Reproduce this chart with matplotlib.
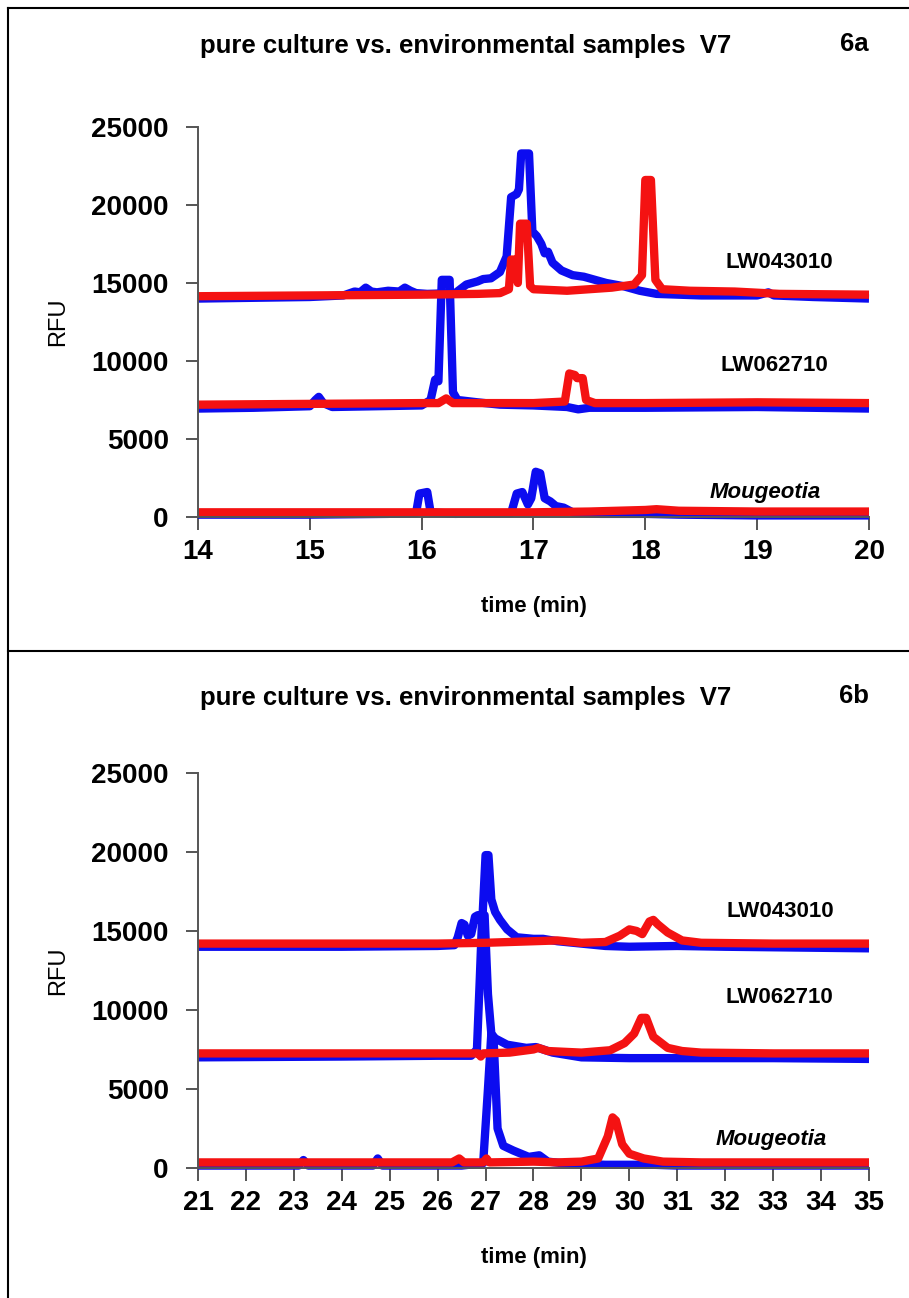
import matplotlib
matplotlib.use("Agg")
import matplotlib.pyplot as plt
from matplotlib.lines import Line2D

plt.rcParams['font.family'] = ['Liberation Sans', 'DejaVu Sans']

# ---- panel 6a (14-20 min) ----
t_b43a = [14.0, 14.5, 15.0, 15.3, 15.4, 15.45, 15.5, 15.55, 15.6, 15.7, 15.8, 15.85, 15.9, 15.95, 16.05,
          16.3, 16.4, 16.5, 16.55, 16.62, 16.7, 16.76, 16.8, 16.85, 16.87, 16.89, 16.96, 16.99, 17.03,
          17.07, 17.1, 17.13, 17.17, 17.25, 17.35, 17.45, 17.55, 17.65, 17.8, 17.95, 18.1, 18.5, 19.0,
          19.1, 19.15, 19.5, 20.0]
v_b43a = [14000, 14050, 14100, 14200, 14450, 14400, 14700, 14450, 14400, 14500, 14450, 14700, 14500, 14350, 14300,
          14350, 14900, 15100, 15250, 15300, 15700, 16700, 20500, 20700, 21000, 23300, 23300, 18300, 18000,
          17500, 16900, 17000, 16300, 15800, 15500, 15400, 15200, 15000, 14800, 14500, 14300, 14200, 14200,
          14400, 14200, 14100, 14000]

t_r43a = [14.0, 15.0, 16.0, 16.5, 16.7, 16.78, 16.8, 16.84, 16.86, 16.88, 16.94, 16.97, 17.0, 17.3, 17.5,
          17.7, 17.9, 17.97, 18.0, 18.05, 18.09, 18.15, 18.4, 18.8, 19.2, 20.0]
v_r43a = [14150, 14200, 14250, 14300, 14350, 14600, 16500, 16500, 15000, 18800, 18800, 14800, 14600, 14500, 14600,
          14700, 14900, 15500, 21600, 21600, 15200, 14600, 14500, 14450, 14300, 14250]

t_b62a = [14.0, 14.5, 15.0, 15.05, 15.08, 15.12, 15.2, 15.6, 16.0, 16.08, 16.12, 16.15, 16.18, 16.25, 16.28,
          16.32, 16.5, 16.7, 17.0, 17.3, 17.4, 17.5, 18.0, 19.0, 20.0]
v_b62a = [6950, 7000, 7100, 7500, 7700, 7300, 7050, 7100, 7150, 7500, 8800, 8700, 15200, 15200, 8000,
          7500, 7350, 7200, 7150, 7050, 6900, 7000, 7000, 7050, 6950]

t_r62a = [14.0, 15.0, 16.0, 16.15, 16.22, 16.28, 17.0, 17.28, 17.32, 17.37, 17.39, 17.44, 17.47, 17.55,
          18.0, 19.0, 20.0]
v_r62a = [7200, 7250, 7300, 7300, 7600, 7300, 7300, 7400, 9200, 9100, 8900, 8900, 7500, 7300,
          7300, 7350, 7300]

t_bMa = [14.0, 15.0, 15.7, 15.95, 15.98, 16.05, 16.08, 16.3, 16.8, 16.85, 16.9, 16.95, 16.98, 17.02, 17.06,
         17.1, 17.15, 17.2, 17.27, 17.35, 17.6, 18.0, 18.3, 19.0, 20.0]
v_bMa = [150, 150, 200, 250, 1500, 1600, 300, 200, 250, 1500, 1600, 800, 1200, 2900, 2800,
         1200, 1000, 700, 600, 300, 200, 200, 150, 100, 100]

t_rMa = [14.0, 15.0, 16.0, 17.0, 17.5, 18.0, 18.1, 18.3, 19.0, 20.0]
v_rMa = [300, 300, 300, 300, 350, 450, 500, 400, 350, 350]

# ---- panel 6b (21-35 min) ----
t_b43b = [21.0, 24.0, 26.0, 26.35, 26.42, 26.5, 26.56, 26.63, 26.7, 26.78, 26.84, 26.93, 27.0, 27.06,
          27.12, 27.2, 27.3, 27.45, 27.65, 28.0, 28.2, 28.5, 29.0, 29.5, 30.0, 31.0, 32.0, 35.0]
v_b43b = [14000, 14000, 14050, 14100, 14600, 15500, 15400, 14700, 14800, 15900, 16000, 15500, 19800, 19800,
          17000, 16200, 15700, 15100, 14600, 14500, 14500, 14350, 14200, 14050, 14000, 14050, 14000, 13900]

t_r43b = [21.0, 24.0, 26.0, 27.0, 28.0, 28.5, 29.0, 29.5, 29.8, 30.0, 30.15, 30.27, 30.42, 30.5, 30.6,
          30.8, 31.1, 31.5, 33.0, 35.0]
v_r43b = [14200, 14200, 14200, 14250, 14350, 14400, 14250, 14300, 14700, 15100, 15000, 14800, 15600, 15700, 15400,
          14900, 14400, 14250, 14200, 14200]

t_b62b = [21.0, 24.0, 26.0, 26.7, 26.82, 26.88, 26.93, 26.98, 27.05, 27.12, 27.2, 27.45, 27.85, 28.05,
          28.2, 28.4, 29.0, 30.0, 31.0, 33.0, 35.0]
v_b62b = [7000, 7050, 7100, 7100, 7500, 12000, 16000, 16000, 11000, 8500, 8200, 7800, 7600, 7650,
          7500, 7300, 7000, 6950, 6950, 6950, 6900]

t_r62b = [21.0, 23.0, 26.0, 26.85, 26.9, 26.95, 27.5, 28.0, 28.1, 28.3, 29.0, 29.6, 29.9, 30.1, 30.25,
          30.35, 30.5, 30.8, 31.1, 31.5, 33.0, 35.0]
v_r62b = [7250, 7250, 7250, 7250, 7050, 7250, 7300, 7500, 7600, 7400, 7300, 7450, 7900, 8500, 9500,
          9500, 8300, 7600, 7400, 7300, 7250, 7250]

t_bMb = [21.0, 23.1, 23.2, 23.3, 24.65, 24.75, 24.85, 26.5, 26.95, 27.05, 27.12, 27.17, 27.25, 27.37,
         27.58, 27.9, 28.12, 28.3, 28.6, 29.5, 30.5, 31.0, 35.0]
v_bMb = [150, 150, 500, 150, 150, 600, 150, 150, 300, 5000, 8500, 8000, 2500, 1400,
         1100, 700, 800, 400, 300, 200, 200, 150, 150]

t_rMb = [21.0, 24.0, 26.3, 26.45, 26.55, 26.95, 27.02, 27.08, 28.0, 28.5, 29.0, 29.35, 29.55, 29.65,
         29.72, 29.85, 30.0, 30.3, 30.7, 31.5, 35.0]
v_rMb = [350, 350, 350, 600, 350, 350, 600, 350, 400, 350, 400, 600, 2000, 3200,
         3000, 1500, 900, 600, 400, 350, 350]

sample_names = ['LW043010', 'LW062710', 'Mougeotia']
title_text = 'pure culture vs. environmental samples  V7'
y_ticks = [0, 5000, 10000, 15000, 20000, 25000]

BLUE = '#0c0cf0'
RED = '#f41212'
LW = 6

fig = plt.figure(figsize=(9.09, 12.98), dpi=100)


def style_axes(ax, xlim, xticks):
    ax.set_xlim(*xlim)
    ax.set_ylim(0, 25000)
    ax.set_xticks(xticks)
    ax.set_yticks(y_ticks)
    for s in ['top', 'right']:
        ax.spines[s].set_visible(False)
    for s in ['left', 'bottom']:
        ax.spines[s].set_color('#555555')
        ax.spines[s].set_linewidth(1.4)
    ax.tick_params(axis='both', direction='out', length=9, width=1.4, color='#555555',
                   labelsize=20, pad=7)
    ax.tick_params(axis='y', pad=12)
    for lab in ax.get_xticklabels() + ax.get_yticklabels():
        lab.set_fontweight('bold')
    ax.set_ylabel('RFU', fontsize=17, labelpad=16)
    ax.set_xlabel('time (min)', fontsize=16, fontweight='bold', labelpad=22)


def draw_traces(ax, blues, reds):
    for t, v in blues:
        ax.plot(t, v, color=BLUE, lw=LW, solid_joinstyle='round', solid_capstyle='butt', clip_on=False)
    for t, v in reds:
        ax.plot(t, v, color=RED, lw=LW, solid_joinstyle='round', solid_capstyle='butt', clip_on=False)


label_kw = dict(ha='center', va='center', fontsize=16, fontweight='bold')

# top panel
ax1 = fig.add_axes([0.2178, 0.6017, 0.7382, 0.3005])
draw_traces(ax1, [(t_b43a, v_b43a), (t_b62a, v_b62a), (t_bMa, v_bMa)],
            [(t_r43a, v_r43a), (t_r62a, v_r62a), (t_rMa, v_rMa)])
style_axes(ax1, (14, 20), list(range(14, 21)))
ax1.text(19.2, 16300, sample_names[0], **label_kw)
ax1.text(19.15, 9700, sample_names[1], **label_kw)
ax1.text(19.07, 1600, sample_names[2], style='italic', **label_kw)

# bottom panel
ax2 = fig.add_axes([0.2178, 0.1002, 0.7382, 0.3043])
draw_traces(ax2, [(t_b43b, v_b43b), (t_b62b, v_b62b), (t_bMb, v_bMb)],
            [(t_r43b, v_r43b), (t_r62b, v_r62b), (t_rMb, v_rMb)])
style_axes(ax2, (21, 35), list(range(21, 36)))
ax2.text(33.14, 16200, sample_names[0], **label_kw)
ax2.text(33.14, 10800, sample_names[1], **label_kw)
ax2.text(32.95, 1800, sample_names[2], style='italic', **label_kw)

# titles and panel tags
title_kw = dict(ha='center', va='center', fontsize=18.5, fontweight='bold')
fig.text(466 / 909, 1 - 46 / 1298, title_text, **title_kw)
fig.text(854 / 909, 1 - 44 / 1298, '6a', **title_kw)
fig.text(466 / 909, 1 - 698 / 1298, title_text, **title_kw)
fig.text(854 / 909, 1 - 696 / 1298, '6b', **title_kw)

# frame lines
fig.add_artist(Line2D([8 / 909, 8 / 909], [0, 1 - 8 / 1298], color='black', lw=1.5, transform=fig.transFigure))
fig.add_artist(Line2D([8 / 909, 1], [1 - 8 / 1298, 1 - 8 / 1298], color='black', lw=1.5, transform=fig.transFigure))
fig.add_artist(Line2D([8 / 909, 1], [1 - 651 / 1298, 1 - 651 / 1298], color='black', lw=1.5, transform=fig.transFigure))

fig.savefig('out.png', dpi=100)
